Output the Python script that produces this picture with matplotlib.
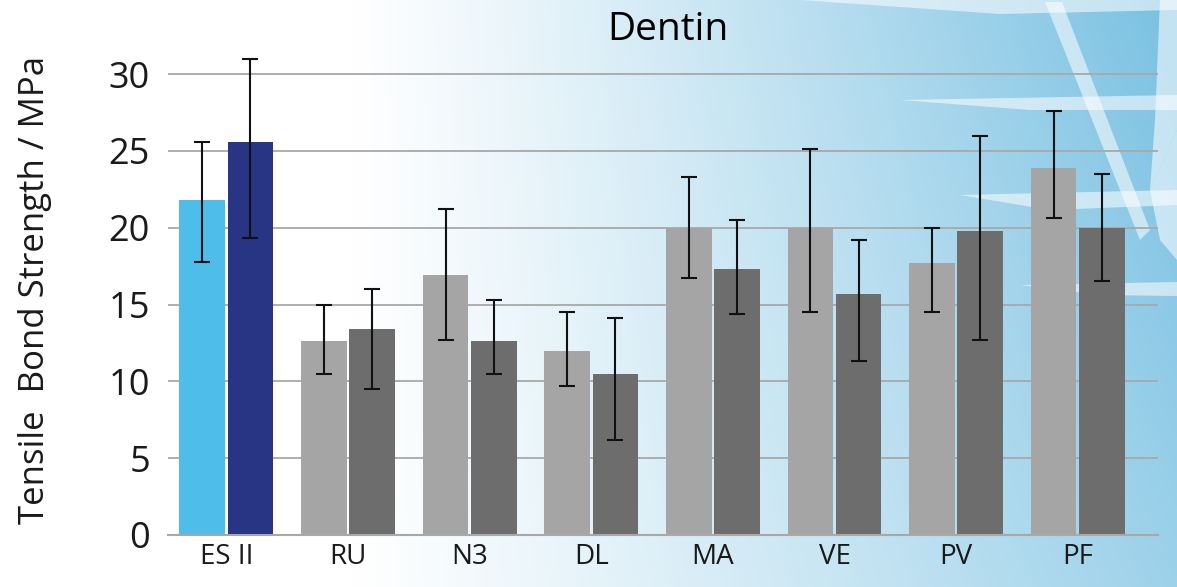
import numpy as np
import matplotlib
matplotlib.use("Agg")
import matplotlib.pyplot as plt
from matplotlib.patches import Polygon

categories = ["ES II", "RU", "N3", "DL", "MA", "VE", "PV", "PF"]
series_a = [21.8, 12.6, 16.9, 12.0, 20.0, 20.0, 17.7, 23.9]
series_a_low = [17.8, 10.5, 12.7, 9.7, 16.7, 14.5, 14.5, 20.6]
series_a_high = [25.6, 15.0, 21.2, 14.5, 23.3, 25.1, 20.0, 27.6]
series_b = [25.6, 13.4, 12.6, 10.5, 17.3, 15.7, 19.8, 20.0]
series_b_low = [19.3, 9.5, 10.5, 6.2, 14.4, 11.3, 12.7, 16.5]
series_b_high = [31.0, 16.0, 15.3, 14.1, 20.5, 19.2, 26.0, 23.5]
yticks = [0, 5, 10, 15, 20, 25, 30]

W, H = 1177, 587
fig = plt.figure(figsize=(W / 100, H / 100), dpi=100)

# background gradient
bg = fig.add_axes([0, 0, 1, 1], zorder=-10)
xx = np.linspace(0, 1, 400)[None, :]
yy = np.linspace(0, 1, 200)[:, None]
t = np.clip((xx - 0.3) / 0.7, 0, 1) ** 1.1
t = t * (0.75 + 0.25 * (1 - yy)) + 0.05 * np.clip(xx - 0.5, 0, 1) * (1 - yy)
t = np.clip(t, 0, 1)
white = np.array([1.0, 1.0, 1.0])
blue = np.array([0x7c, 0xc2, 0xe3]) / 255
img = white[None, None, :] * (1 - t[..., None]) + blue[None, None, :] * t[..., None]
bg.imshow(img, extent=[0, W, H, 0], aspect="auto", interpolation="bilinear")
# decorative white streaks
streaks = [
    [(800, 0), (1177, 0), (1177, 10), (1000, 14)],
    [(1045, 2), (1062, 2), (1150, 230), (1140, 240)],
    [(900, 100), (1177, 95), (1177, 110), (1030, 110)],
    [(960, 195), (1177, 190), (1177, 205), (1050, 210)],
    [(1020, 285), (1177, 282), (1177, 296), (1100, 295)],
    [(1160, 0), (1177, 0), (1177, 130), (1150, 190), (1155, 120)],
    [(1150, 190), (1177, 130), (1177, 260), (1160, 240)],
]
for pts in streaks:
    bg.add_patch(Polygon(pts, closed=True, facecolor="white", edgecolor="none", alpha=0.55))
bg.set_xlim(0, W)
bg.set_ylim(H, 0)
bg.axis("off")

ax = fig.add_axes([168 / W, (H - 535) / H, (1158 - 168) / W, (535 - 51) / H])
ax.patch.set_alpha(0)

x = np.arange(len(categories))
width = 0.375
off = 0.198
colors_a = ["#4fbde9"] + ["#a5a5a5"] * (len(categories) - 1)
colors_b = ["#283584"] + ["#6d6d6d"] * (len(categories) - 1)

err_a = [np.array(series_a) - np.array(series_a_low), np.array(series_a_high) - np.array(series_a)]
err_b = [np.array(series_b) - np.array(series_b_low), np.array(series_b_high) - np.array(series_b)]

ax.bar(x - off, series_a, width, color=colors_a, zorder=2)
ax.bar(x + off, series_b, width, color=colors_b, zorder=2)
ekw = dict(fmt="none", ecolor="#111111", elinewidth=1.5, capsize=6, capthick=1.5, zorder=3)
ax.errorbar(x - off, series_a, yerr=err_a, **ekw)
ax.errorbar(x + off, series_b, yerr=err_b, **ekw)

ax.set_xlim(-0.48, 7.66)
ax.set_ylim(0, 31.5)
ax.set_yticks(yticks)
ax.set_yticklabels([str(v) for v in yticks], fontsize=26, family="Open Sans", color="#1a1a1a")
ax.yaxis.grid(True, color="#a8a8a8", linewidth=1.3, zorder=0)
ax.set_axisbelow(True)
ax.tick_params(axis="y", length=0, pad=13)
ax.tick_params(axis="x", length=0, pad=6)
ax.set_xticks(x)
ax.set_xticklabels(categories, fontsize=20, family="Open Sans", color="#1a1a1a")
for s in ["top", "right", "left"]:
    ax.spines[s].set_visible(False)
ax.spines["bottom"].set_color("#a8a8a8")
ax.spines["bottom"].set_linewidth(1.5)

fig.text(18 / W, (H - 290) / H, "Tensile  Bond Strength / MPa", rotation=90,
         fontsize=25, family="Open Sans", color="#1a1a1a", va="center", ha="left")
fig.text(668 / W, (H - 30) / H, "Dentin", fontsize=28, family="Open Sans",
         color="black", ha="center", va="center")

fig.savefig("out.png", dpi=100)
